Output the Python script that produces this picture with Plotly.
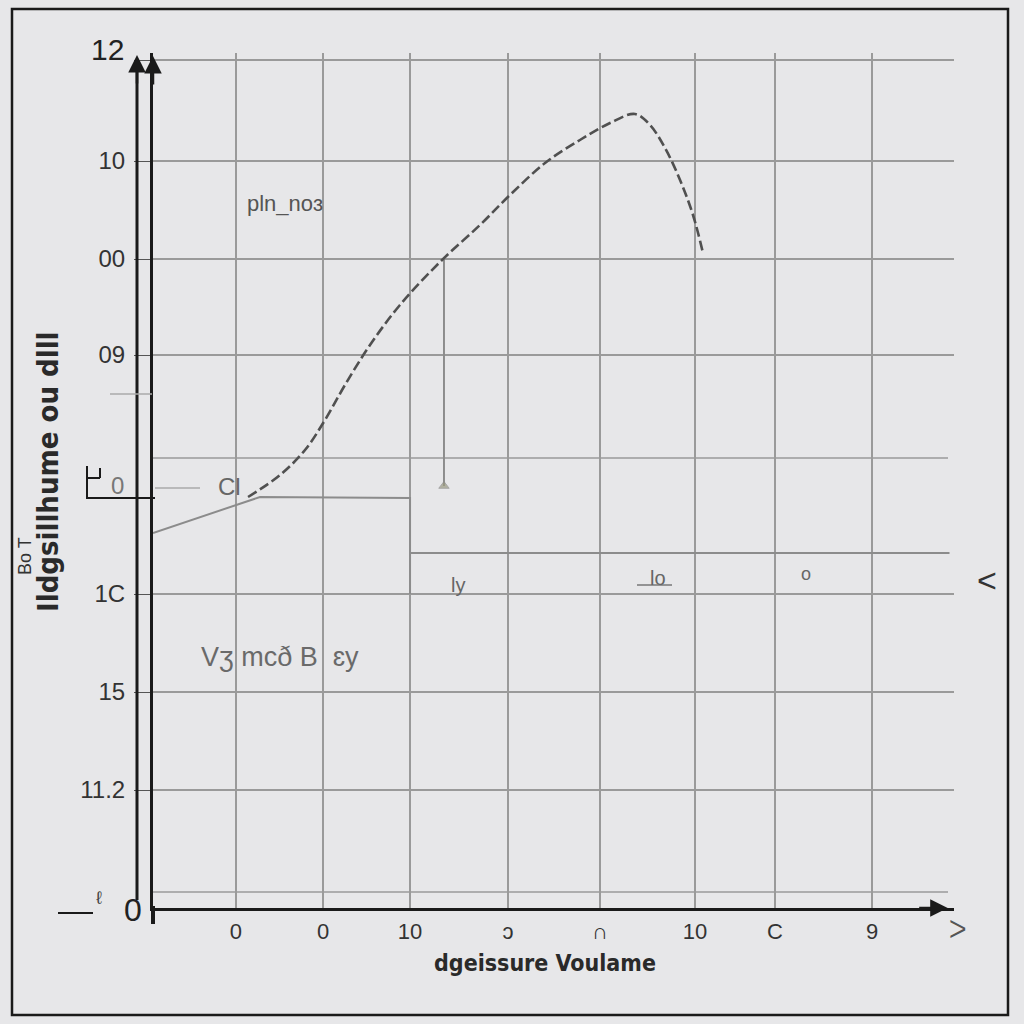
import plotly.graph_objects as go

# ---------------- data ----------------
curve_x = [1.056, 1.411, 1.689, 1.911, 2.133, 2.411, 2.744, 3.189, 3.633, 3.967,
           4.356, 4.744, 5.078, 5.356, 5.522, 5.689, 5.856, 6.0, 6.111]
curve_y = [4.11, 4.33, 4.58, 4.88, 5.23, 5.63, 6.03, 6.46, 6.83, 7.13,
           7.45, 7.68, 7.85, 7.94, 7.83, 7.60, 7.28, 6.93, 6.55]

step_x = [0.0, 1.189, 2.856, 2.856]
step_y = [3.75, 4.11, 4.10, 3.14]

shelf_x = [2.856, 8.85]
shelf_y = [3.55, 3.55]

stem_x = [3.233, 3.233]
stem_y = [6.50, 4.22]

x_tick_vals = [0.922, 1.889, 2.856, 3.944, 4.967, 6.022, 6.911, 7.989]
x_tick_text = ["0", "0", "10", "ɔ", "∩", "10", "C", "9"]

y_tick_vals = [8.48, 7.47, 6.49, 5.53, 3.14, 2.16, 1.18]
y_tick_text = ["", "10", "00", "09", "1C", "15", "11.2"]
extra_grid_y = [4.50, 0.16]

x_title = "dgeissure Voulame"
y_title = "Ildgsillhume ou dlll"

# ---------------- layout constants ----------------
L, R, T, B = 153, 954, 53, 908
W, H = R - L, B - T


def px(x):
    return (x - L) / W


def py(y):
    return (B - y) / H


BG = "#e7e7e9"
GRID = "#9a9a9a"
INK = "#1a1a1a"
FONT = "Liberation Sans Narrow, Liberation Sans, Roboto, sans-serif"
COND = "Liberation Sans Narrow, DejaVu Sans Condensed, Roboto Condensed, Liberation Sans, sans-serif"

fig = go.Figure()

fig.add_trace(go.Scatter(x=step_x, y=step_y, mode="lines",
                         line=dict(color="#8c8c8c", width=2), hoverinfo="skip"))
fig.add_trace(go.Scatter(x=shelf_x, y=shelf_y, mode="lines",
                         line=dict(color="#8c8c8c", width=2), hoverinfo="skip"))
fig.add_trace(go.Scatter(x=stem_x, y=stem_y, mode="lines+markers",
                         line=dict(color="#8c8c8c", width=2),
                         marker=dict(size=[0, 9], symbol="triangle-up", color="#9a9a80"),
                         hoverinfo="skip"))
fig.add_trace(go.Scatter(x=curve_x, y=curve_y, mode="lines", line_shape="spline",
                         line=dict(color="#505050", width=2.6, dash="10px,4px"),
                         hoverinfo="skip"))

shapes = []
# extra horizontal grid lines
for gy in extra_grid_y:
    shapes.append(dict(type="line", xref="paper", yref="y", x0=0, x1=(948 - L) / W,
                       y0=gy, y1=gy, line=dict(color=GRID, width=1.5), layer="below"))
# outer border
shapes.append(dict(type="rect", xref="paper", yref="paper",
                   x0=px(12), x1=px(1008), y0=py(1015), y1=py(9),
                   line=dict(color=INK, width=2.5)))
# second y axis line
shapes.append(dict(type="line", xref="paper", yref="paper",
                   x0=px(137), x1=px(137), y0=py(900), y1=py(66),
                   line=dict(color=INK, width=3)))
# axis extension below origin
shapes.append(dict(type="line", xref="paper", yref="paper",
                   x0=px(153), x1=px(153), y0=py(906), y1=py(924),
                   line=dict(color=INK, width=4)))
# small box near "0" label
shapes.append(dict(type="line", xref="paper", yref="paper",
                   x0=px(86), x1=px(155), y0=py(498), y1=py(498),
                   line=dict(color=INK, width=2)))
shapes.append(dict(type="line", xref="paper", yref="paper",
                   x0=px(87), x1=px(87), y0=py(498), y1=py(466),
                   line=dict(color=INK, width=2)))
shapes.append(dict(type="line", xref="paper", yref="paper",
                   x0=px(87), x1=px(100), y0=py(478), y1=py(478),
                   line=dict(color=INK, width=2)))
shapes.append(dict(type="line", xref="paper", yref="paper",
                   x0=px(100), x1=px(100), y0=py(478), y1=py(468),
                   line=dict(color=INK, width=2)))
# gray short lines at left
shapes.append(dict(type="line", xref="paper", yref="paper",
                   x0=px(110), x1=px(152), y0=py(394), y1=py(394),
                   line=dict(color="#aaaaaa", width=1.5)))
shapes.append(dict(type="line", xref="paper", yref="paper",
                   x0=px(155), x1=px(200), y0=py(488), y1=py(488),
                   line=dict(color="#aaaaaa", width=1.5)))
# origin short line
shapes.append(dict(type="line", xref="paper", yref="paper",
                   x0=px(58), x1=px(93), y0=py(913), y1=py(913),
                   line=dict(color=INK, width=2)))
# underline near "lo"
shapes.append(dict(type="line", xref="paper", yref="paper",
                   x0=px(637), x1=px(672), y0=py(585), y1=py(585),
                   line=dict(color="#777777", width=1.5)))

annotations = []


def txt(x, y, s, size=22, color="#555555", angle=0, family=FONT, **kw):
    annotations.append(dict(xref="paper", yref="paper", x=px(x), y=py(y), text=s,
                            showarrow=False, textangle=angle,
                            font=dict(size=size, color=color, family=family),
                            xanchor="center", yanchor="middle", **kw))


txt(545, 963, "<b>" + x_title + "</b>", size=23, color="#2a2a2a", family=COND)
txt(48, 472, "<b>" + y_title + "</b>", size=29, color="#2a2a2a", angle=-90, family=COND)
txt(25, 556, "Bo T", size=18, color="#333333", angle=-90)
txt(107, 50, "12", size=30, color="#222222")
txt(117, 485, "0", size=24, color="#777777")
txt(133, 910, "0", size=32, color="#222222")
txt(99, 898, "ℓ", size=18, color="#444444")
txt(285, 203, "pln_noɜ", size=22, color="#555555")
txt(229, 487, "Cl", size=24, color="#666666")
txt(280, 657, "Vʒ mcð B  ɛy", size=27, color="#6a6a6a")
txt(458, 585, "ly", size=20, color="#666666")
txt(658, 578, "lo", size=20, color="#666666")
txt(806, 574, "o", size=18, color="#666666")
txt(987, 580, "<", size=34, color="#333333")
txt(958, 930, "ᐳ", size=24, color="#555555")

# arrowheads
annotations.append(dict(xref="x", yref="y", x=0, y=8.52, ax=0, ay=30, showarrow=True,
                        arrowhead=2, arrowsize=1.4, arrowwidth=2.5, arrowcolor=INK, text=""))
annotations.append(dict(xref="paper", yref="paper", x=px(137), y=py(55), ax=0, ay=30,
                        showarrow=True, arrowhead=2, arrowsize=1.4, arrowwidth=2.5,
                        arrowcolor=INK, text=""))
annotations.append(dict(xref="x", yref="y", x=8.83, y=0, ax=-30, ay=0, showarrow=True,
                        arrowhead=2, arrowsize=1.4, arrowwidth=2.5, arrowcolor=INK, text=""))

fig.update_layout(
    width=1024, height=1024,
    margin=dict(l=L, r=1024 - R, t=T, b=1024 - B, autoexpand=False),
    paper_bgcolor=BG, plot_bgcolor=BG,
    showlegend=False,
    shapes=shapes, annotations=annotations,
    xaxis=dict(range=[0, 8.9], tickmode="array", tickvals=x_tick_vals, ticktext=x_tick_text,
               showgrid=True, gridcolor=GRID, gridwidth=1.5, zeroline=False,
               showline=True, linecolor=INK, linewidth=3,
               ticks="", ticklabelstandoff=2,
               tickfont=dict(size=22, color="#333333", family=FONT)),
    yaxis=dict(range=[0, 8.55], tickmode="array", tickvals=y_tick_vals, ticktext=y_tick_text,
               showgrid=True, gridcolor=GRID, gridwidth=1.5, zeroline=False,
               showline=True, linecolor=INK, linewidth=3,
               ticks="outside", ticklen=16, tickcolor="#555555", tickwidth=1,
               ticklabelstandoff=4,
               tickfont=dict(size=24, color="#333333", family=FONT)),
)

fig.write_html(
    "out.html",
    config={"displayModeBar": False},
    post_script="document.body.style.margin='0';document.body.style.padding='0';"
                "document.body.style.overflow='hidden';document.body.style.background='" + BG + "';",
)
